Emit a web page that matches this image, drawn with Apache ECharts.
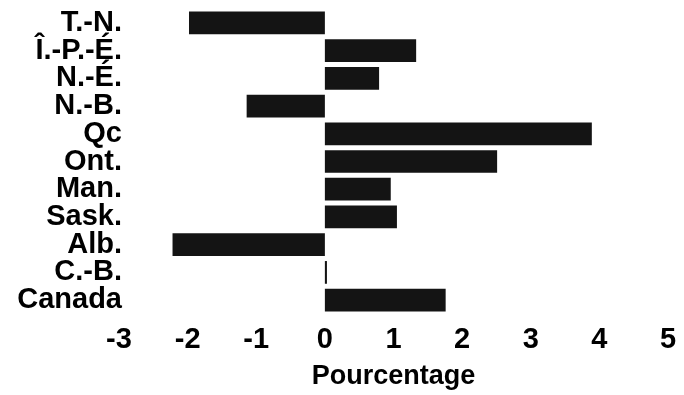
<!DOCTYPE html>
<html><head><meta charset="utf-8">
<script src="https://cdn.jsdelivr.net/npm/echarts@6/dist/echarts.min.js"></script>
<style>html,body{margin:0;padding:0;background:#fff}#c{width:684px;height:395px}</style>
</head><body><div id="c"></div>
<script>
const categories = ["T.-N.", "Î.-P.-É.", "N.-É.", "N.-B.", "Qc", "Ont.", "Man.", "Sask.", "Alb.", "C.-B.", "Canada"];
const values = [-1.98, 1.33, 0.79, -1.14, 3.89, 2.51, 0.96, 1.05, -2.22, 0.03, 1.76];
const xTicks = [-3, -2, -1, 0, 1, 2, 3, 4, 5];
const axisName = "Pourcentage";

const chart = echarts.init(document.getElementById('c'), null, {renderer: 'canvas'});
const font = '"Liberation Sans", Arial, sans-serif';
chart.setOption({
  animation: false,
  grid: {left: 119, right: 16, top: 9, bottom: 68, containLabel: false},
  xAxis: {
    type: 'value', min: xTicks[0], max: xTicks[xTicks.length - 1], interval: 1,
    axisLine: {show: false}, axisTick: {show: false}, splitLine: {show: false},
    axisLabel: {color: '#000', fontFamily: font, fontWeight: 'bold', fontSize: 29, margin: 11},
    name: axisName, nameLocation: 'middle', nameGap: 49,
    nameTextStyle: {color: '#000', fontFamily: font, fontWeight: 'bold', fontSize: 27}
  },
  yAxis: {
    type: 'category', data: categories, inverse: true,
    axisLine: {show: false, onZero: false}, axisTick: {show: false}, splitLine: {show: false},
    axisLabel: {color: '#000', fontFamily: font, fontWeight: 'bold', fontSize: 29, margin: -3, lineHeight: 28, interval: 0}
  },
  series: [{
    type: 'bar', data: values, barCategoryGap: '18%',
    itemStyle: {color: '#141414'}
  }]
});
</script></body></html>
